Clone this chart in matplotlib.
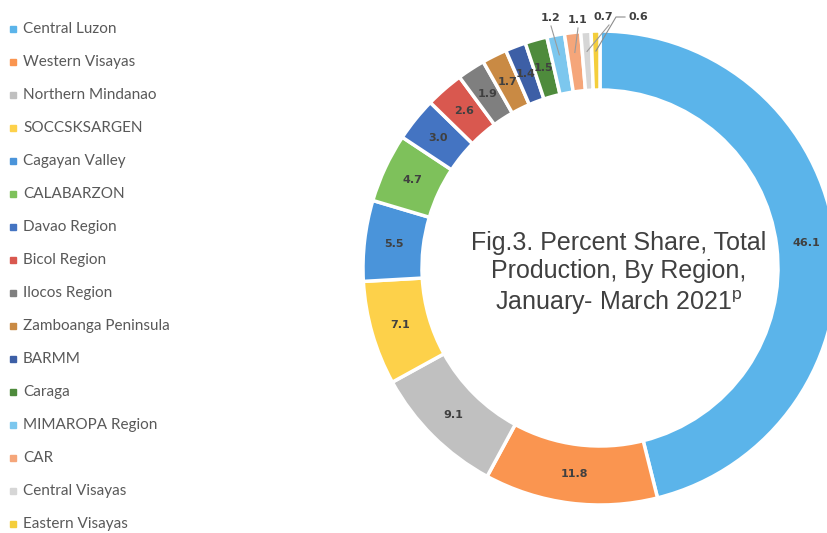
import matplotlib
matplotlib.use("Agg")
import matplotlib.pyplot as plt
import numpy as np

regions = ["Central Luzon", "Western Visayas", "Northern Mindanao", "SOCCSKSARGEN",
           "Cagayan Valley", "CALABARZON", "Davao Region", "Bicol Region",
           "Ilocos Region", "Zamboanga Peninsula", "BARMM", "Caraga",
           "MIMAROPA Region", "CAR", "Central Visayas", "Eastern Visayas"]
shares = [46.1, 11.8, 9.1, 7.1, 5.5, 4.7, 3.0, 2.6, 1.9, 1.7, 1.4, 1.5, 1.2, 1.1, 0.7, 0.6]
colors = ["#5BB4EA", "#FA9550", "#C0C0C0", "#FDD14A", "#4A94DA", "#7EC15B",
          "#4474C2", "#D9584F", "#7F7F7F", "#C98A44", "#3D5FA6", "#4E8B3C",
          "#7CC7EE", "#F5A67A", "#D6D6D6", "#F4CE3C"]
outside = [False]*12 + [True]*4

plt.rcParams["mathtext.fontset"] = "custom"
plt.rcParams["mathtext.rm"] = "Liberation Sans"

W, H = 828, 533
fig = plt.figure(figsize=(W/100, H/100), dpi=100)
ax = fig.add_axes([0, 0, 1, 1])

cx, cy, R, ring = 600, 265, 237, 59
wedges, _ = ax.pie(shares, colors=colors, startangle=90, counterclock=False,
                   center=(cx, cy), radius=R, frame=True,
                   wedgeprops=dict(width=ring, edgecolor="white", linewidth=2.5))
ax.set_xlim(0, W)
ax.set_ylim(0, H)
ax.set_aspect("equal")
ax.axis("off")

# labels
out_pos = [(551, 515), (578, 513), (603, 516), (638, 516)]
k = 0
for w, v, o in zip(wedges, shares, outside):
    ang = np.deg2rad((w.theta1 + w.theta2) / 2)
    if not o:
        rr = R - ring / 2
        ax.text(cx + rr*np.cos(ang), cy + rr*np.sin(ang), f"{v:.1f}", ha="center",
                va="center", fontsize=8, color="#404040", fontweight="bold",
                family="DejaVu Sans")
    else:
        lx, ly = out_pos[k]
        k += 1
        rr = R - 20
        px, py = cx + rr*np.cos(ang), cy + rr*np.sin(ang)
        ax.text(lx, ly, f"{v:.1f}", ha="center", va="center", fontsize=8,
                color="#404040", fontweight="bold", family="DejaVu Sans")
        if k == 4:
            ax.plot([lx - 13, lx - 22, px], [ly, ly, py], color="#8C8C8C", lw=0.8)
        else:
            ax.plot([lx + (6 if k == 3 else 0), px], [ly - 8, py], color="#9A9A9A", lw=0.8)

# centre title
ax.text(619, 259, "Fig.3. Percent Share, Total\nProduction, By Region,\nJanuary- March 2021$^{\\mathrm{p}}$",
        ha="center", va="center", fontsize=18, color="#404040",
        family="Liberation Sans", linespacing=1.25)

# legend
for i, (name, c) in enumerate(zip(regions, colors)):
    y = H - (29 + 33 * i)
    ax.plot(13, y, marker="s", ms=4.5, color=c, mec=c)
    ax.text(23, y, name, ha="left", va="center", fontsize=11, color="#595959",
            family="Lato")

fig.savefig("out.png", dpi=100)
